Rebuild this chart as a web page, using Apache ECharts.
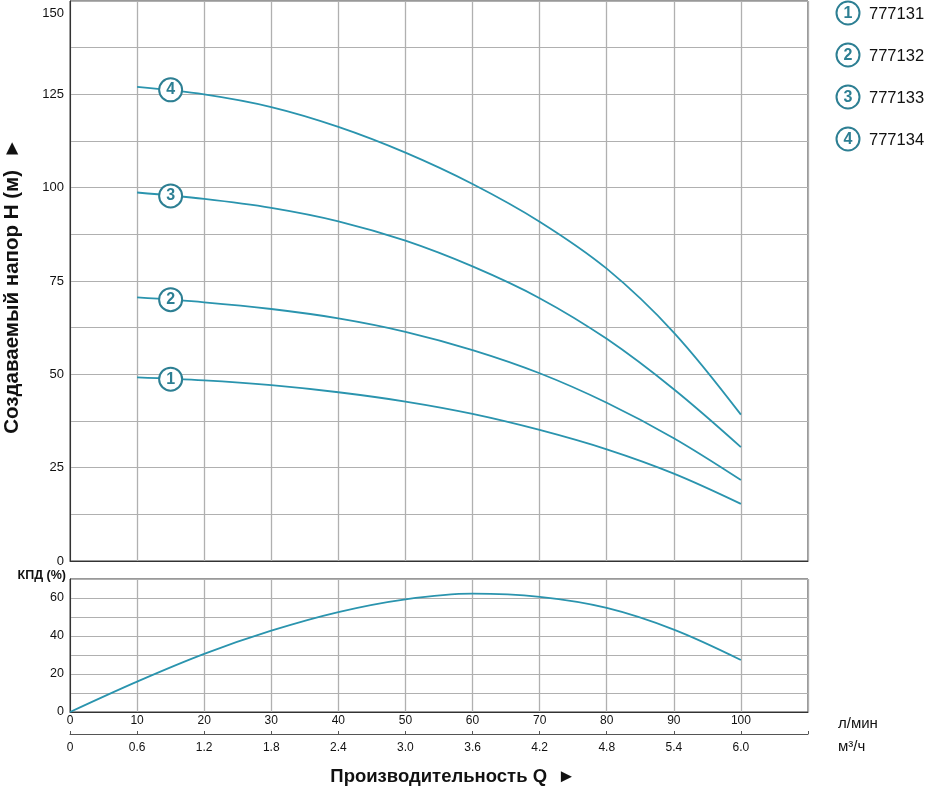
<!DOCTYPE html>
<html>
<head>
<meta charset="utf-8">
<script src="https://cdn.jsdelivr.net/npm/echarts@6/dist/echarts.min.js"></script>
<style>
html,body{margin:0;padding:0;background:#fff;}
#chart{width:926px;height:788px;}
</style>
</head>
<body>
<div id="chart"></div>
<script>
// ---- data ----
var flowQ = [10, 20, 30, 40, 50, 60, 70, 80, 90, 100];
var head1 = [49.2, 48.4, 47.1, 45.2, 42.7, 39.4, 35.1, 29.9, 23.4, 15.3];
var head2 = [70.6, 69.3, 67.5, 65.0, 61.4, 56.5, 50.3, 42.4, 32.9, 21.7];
var head3 = [98.7, 97.0, 94.6, 91.0, 85.8, 78.9, 70.4, 59.5, 46.0, 30.5];
var head4 = [127.0, 125.0, 121.6, 116.3, 109.4, 101.0, 90.9, 78.3, 61.2, 39.2];
var effQ = [0, 10, 20, 30, 40, 50, 60, 70, 80, 90, 100];
var effVal = [0, 16.0, 30.6, 42.8, 52.6, 59.3, 62.3, 60.6, 54.8, 43.4, 27.4];
var markerQ = [15, 15, 15, 15];
var markerH = [48.7, 70.0, 97.8, 126.2];
var curveNums = ['1', '2', '3', '4'];
var models = ['777131', '777132', '777133', '777134'];
var m3Labels = ['0', '0.6', '1.2', '1.8', '2.4', '3.0', '3.6', '4.2', '4.8', '5.4', '6.0'];

var lineColor = '#2a94ae';
var markColor = '#2d7f93';
var gridColor = '#b0b0b0';
var frameColor = '#333';
var font = 'Liberation Sans, Arial, sans-serif';

function zip(xs, ys) { return xs.map(function (x, i) { return [x, ys[i]]; }); }

var heads = [head1, head2, head3, head4];
var series = heads.map(function (h, i) {
  return {
    type: 'line', xAxisIndex: 0, yAxisIndex: 0, data: zip(flowQ, h),
    smooth: 0.35, showSymbol: false, lineStyle: { color: lineColor, width: 1.8 }, z: 3, silent: true
  };
});
series.push({
  type: 'scatter', xAxisIndex: 0, yAxisIndex: 0,
  data: markerQ.map(function (q, i) { return { value: [q, markerH[i]], name: curveNums[i] }; }),
  symbol: 'circle', symbolSize: 23,
  itemStyle: { color: '#fff', borderColor: markColor, borderWidth: 2, opacity: 1 },
  label: { show: true, position: 'inside', formatter: function (p) { return p.name; },
    color: markColor, fontWeight: 'bold', fontSize: 16, fontFamily: font },
  z: 5, silent: true
});
series.push({
  type: 'line', xAxisIndex: 1, yAxisIndex: 1, data: zip(effQ, effVal),
  smooth: 0.35, showSymbol: false, lineStyle: { color: lineColor, width: 1.8 }, z: 3, silent: true
});

var legendGraphics = [];
models.forEach(function (m, i) {
  var cy = 13 + i * 42;
  legendGraphics.push({ type: 'circle', shape: { cx: 848, cy: cy, r: 11.5 },
    style: { fill: '#fff', stroke: markColor, lineWidth: 2 } });
  legendGraphics.push({ type: 'text', x: 848, y: cy + 1,
    style: { text: curveNums[i], fill: markColor, font: 'bold 16px ' + font, align: 'center', verticalAlign: 'middle' } });
  legendGraphics.push({ type: 'text', x: 869, y: cy + 1,
    style: { text: m, fill: '#111', font: '16.5px ' + font, align: 'left', verticalAlign: 'middle' } });
});
legendGraphics.push({ type: 'text', x: 12, y: 286, rotation: Math.PI / 2,
  style: { text: 'Создаваемый напор H (м)  ►', fill: '#111', font: 'bold 20.5px ' + font, align: 'center', verticalAlign: 'middle' } });
legendGraphics.push({ type: 'text', x: 66, y: 576,
  style: { text: 'КПД (%)', fill: '#111', font: 'bold 12.5px ' + font, align: 'right', verticalAlign: 'middle' } });
legendGraphics.push({ type: 'text', x: 838, y: 724,
  style: { text: 'л/мин', fill: '#111', font: '15px ' + font, align: 'left', verticalAlign: 'middle' } });
legendGraphics.push({ type: 'text', x: 838, y: 747,
  style: { text: 'м³/ч', fill: '#111', font: '15px ' + font, align: 'left', verticalAlign: 'middle' } });
legendGraphics.push({ type: 'text', x: 453, y: 777,
  style: { text: 'Производительность Q  ►', fill: '#111', font: 'bold 18.5px ' + font, align: 'center', verticalAlign: 'middle' } });

var option = {
  animation: false,
  backgroundColor: '#fff',
  grid: [
    { left: 70, right: 118, top: 1, height: 560, show: true, borderColor: frameColor, borderWidth: 1,
      containLabel: false, outerBoundsMode: 'none' },
    { left: 70, right: 118, top: 579, height: 133, show: true, borderColor: frameColor, borderWidth: 1,
      containLabel: false, outerBoundsMode: 'none' }
  ],
  xAxis: [
    { type: 'value', gridIndex: 0, min: 0, max: 110, interval: 10,
      axisLine: { show: true, lineStyle: { color: frameColor } }, axisTick: { show: false }, axisLabel: { show: false },
      splitLine: { show: true, lineStyle: { color: gridColor, width: 1.3 } } },
    { type: 'value', gridIndex: 1, min: 0, max: 110, interval: 10,
      axisLine: { show: true, lineStyle: { color: frameColor } }, axisTick: { show: false },
      axisLabel: { show: true, margin: 3, fontSize: 12, color: '#111', fontFamily: font,
        formatter: function (v) { return v > 100 ? '' : String(v); } },
      splitLine: { show: true, lineStyle: { color: gridColor, width: 1.3 } } },
    { type: 'value', gridIndex: 1, position: 'bottom', offset: 22, min: 0, max: 110, interval: 10,
      axisLine: { show: true, lineStyle: { color: '#555' } },
      axisTick: { show: true, inside: true, length: 3, lineStyle: { color: '#555' } },
      axisLabel: { show: true, margin: 8, fontSize: 12, color: '#111', fontFamily: font,
        formatter: function (v) { var i = Math.round(v / 10); return i < m3Labels.length ? m3Labels[i] : ''; } },
      splitLine: { show: false } }
  ],
  yAxis: [
    { type: 'value', gridIndex: 0, min: 0, max: 150, interval: 12.5,
      axisLine: { show: true, lineStyle: { color: frameColor } }, axisTick: { show: false },
      axisLabel: { show: true, margin: 6, fontSize: 13, color: '#111', fontFamily: font,
        formatter: function (v) {
          if (Math.abs(v % 25) > 0.01) return '';
          if (v >= 150) return '{top|' + v + '}';
          return String(v);
        },
        rich: { top: { padding: [24, 0, 0, 0], fontSize: 13, color: '#111', fontFamily: font } } },
      splitLine: { show: true, lineStyle: { color: gridColor, width: 1.1 } } },
    { type: 'value', gridIndex: 1, min: 0, max: 70, interval: 10,
      axisLine: { show: true, lineStyle: { color: frameColor } }, axisTick: { show: false },
      axisLabel: { show: true, margin: 6, fontSize: 12.5, color: '#111', fontFamily: font,
        formatter: function (v) { return (v % 20 === 0 && v < 70) ? String(v) : ''; } },
      splitLine: { show: true, lineStyle: { color: gridColor, width: 1.1 } } }
  ],
  graphic: legendGraphics,
  series: series
};

var chart = echarts.init(document.getElementById('chart'), null, { renderer: 'canvas' });
chart.setOption(option);
</script>
</body>
</html>
